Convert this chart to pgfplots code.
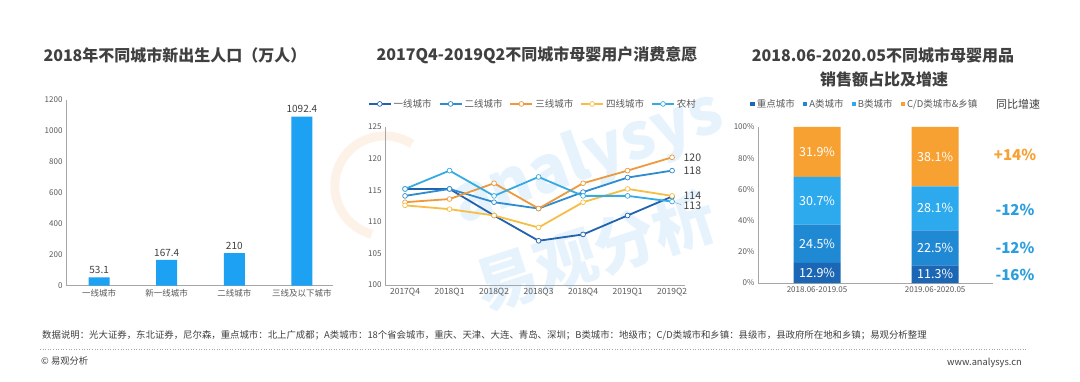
\documentclass[border=0pt]{standalone}
\usepackage{pgfplots}
\pgfplotsset{compat=1.18}
\usepackage{fontspec}
\setmainfont{Noto Sans CJK SC}
\definecolor{titlegray}{HTML}{404040}
\definecolor{tickgray}{HTML}{595959}
\definecolor{axgray}{HTML}{A6A6A6}
\definecolor{barblue}{HTML}{1DA1F2}
\definecolor{lone}{HTML}{2262AE}
\definecolor{ltwo}{HTML}{2E8BCF}
\definecolor{lthree}{HTML}{EE9A3C}
\definecolor{lfour}{HTML}{F6BE45}
\definecolor{lfive}{HTML}{36AAE2}
\definecolor{sone}{HTML}{1C67B5}
\definecolor{stwo}{HTML}{2089D3}
\definecolor{sthree}{HTML}{2DAAEE}
\definecolor{sfour}{HTML}{F8A133}
\definecolor{growblue}{HTML}{2B9FDD}
\definecolor{wmblue}{HTML}{3FA9F5}
\definecolor{wmorange}{HTML}{F5A04A}
\pgfplotsset{
 base/.style={scale only axis, clip=false, axis x line*=bottom, axis y line*=left,
   axis line style={draw=axgray, line width=0.8pt, -}, major tick length=0pt,
   tick label style={font=\fontsize{8}{9}\selectfont, text=tickgray},
   x tick label style={font=\fontsize{8.5}{10}\selectfont},
   /pgf/number format/assume math mode=true, /pgf/number format/1000 sep={}, anchor=south west},
 ln/.style={line width=1.8pt, mark=*, mark size=2.4pt, mark options={fill=white, line width=0.7pt}},
}
\begin{document}
\begin{tikzpicture}[x=1pt,y=1pt]
\path[fill=white, use as bounding box] (0,0) rectangle (1080,381);
% watermark
\draw[wmorange, opacity=0.13, line width=9pt] (412,237) arc[start angle=57, end angle=255, radius=50];
\node[rotate=20, font=\fontsize{64}{70}\bfseries\selectfont, text=wmblue, opacity=0.13] at (588,222) {analysys};
\node[rotate=18, font=\fontsize{62}{70}\bfseries\selectfont, text=wmblue, opacity=0.13] at (595,130) {易观分析};
% titles
\node[font=\fontsize{16}{19}\bfseries\selectfont, text=titlegray] at (175,326) {2018年不同城市新出生人口（万人）};
\node[font=\fontsize{16}{19}\bfseries\selectfont, text=titlegray] at (537,326) {2017Q4-2019Q2不同城市母婴用户消费意愿};
\node[font=\fontsize{16}{19}\bfseries\selectfont, text=titlegray] at (883,326) {2018.06-2020.05不同城市母婴用品};
\node[font=\fontsize{16}{19}\bfseries\selectfont, text=titlegray] at (884,302) {销售额占比及增速};
% panel 1
\begin{axis}[base, at={(66pt,95.3pt)}, width=267pt, height=185.7pt,
  xmin=-0.49, xmax=3.46, ymin=0, ymax=1200, ytick={0,200,...,1200},
  xtick={0,1,2,3}, xticklabels={一线城市,新一线城市,二线城市,三线及以下城市},
  ybar, bar width=21pt, nodes near coords,
  nodes near coords style={font=\fontsize{10}{12}\selectfont, text=titlegray, /pgf/number format/.cd, fixed, precision=1, 1000 sep={}}]
\addplot[fill=barblue, draw=none] coordinates {(0,53.1) (1,167.4) (2,210) (3,1092.4)};
\end{axis}
% panel 2
\begin{axis}[base, at={(385pt,96pt)}, width=300pt, height=158pt,
  xmin=-0.45, xmax=6.29, ymin=100, ymax=125, ytick={100,105,...,125},
  xtick={0,...,6}, xticklabels={2017Q4,2018Q1,2018Q2,2018Q3,2018Q4,2019Q1,2019Q2},
  legend columns=5,
  legend style={at={(0.493,1.146)}, anchor=center, draw=none, fill=none,
    font=\fontsize{9.5}{11}\selectfont, text=tickgray, inner sep=0pt,
    /tikz/every even column/.append style={column sep=5pt}},
  legend image code/.code={\draw[mark repeat=2, mark phase=2] plot coordinates {(0pt,0pt) (11pt,0pt) (22pt,0pt)};}]
\addplot[ln, color=lone] coordinates {(0,115.2) (1,115.2) (2,111.0) (3,107.0) (4,108.0) (5,111.0) (6,114.0)};
\addlegendentry{一线城市}
\addplot[ln, color=ltwo] coordinates {(0,114.1) (1,115.2) (2,113.1) (3,112.1) (4,114.7) (5,117.0) (6,118.1)};
\addlegendentry{二线城市}
\addplot[ln, color=lthree] coordinates {(0,113.1) (1,113.6) (2,116.1) (3,112.1) (4,116.1) (5,118.1) (6,120.2)};
\addlegendentry{三线城市}
\addplot[ln, color=lfour] coordinates {(0,112.6) (1,112.0) (2,111.0) (3,109.1) (4,113.1) (5,115.2) (6,114.1)};
\addlegendentry{四线城市}
\addplot[ln, color=lfive] coordinates {(0,115.2) (1,118.1) (2,114.1) (3,117.1) (4,114.1) (5,114.1) (6,113.2)};
\addlegendentry{农村}
\node[anchor=west, font=\fontsize{10.5}{12}\selectfont, text=titlegray] at (axis cs:6,120.1) [xshift=8pt] {120};
\node[anchor=west, font=\fontsize{10.5}{12}\selectfont, text=titlegray] at (axis cs:6,118.05) [xshift=8pt] {118};
\node[anchor=west, font=\fontsize{10.5}{12}\selectfont, text=titlegray] at (axis cs:6,114.1) [xshift=8pt] {114};
\node[anchor=west, font=\fontsize{10.5}{12}\selectfont, text=titlegray] at (axis cs:6,112.6) [xshift=8pt] {113};
\draw[axgray, line width=0.5pt] (axis cs:6,113.2) ++(3pt,-1pt) -- ++(6pt,-2pt);
\end{axis}
% panel 3
\begin{axis}[base, at={(758pt,98pt)}, width=235pt, height=156pt,
  xmin=-0.5, xmax=1.49, ymin=0, ymax=100, ytick={0,20,...,100},
  yticklabel={\pgfmathprintnumber{\tick}\%},
  xtick={0,1}, xticklabels={2018.06-2019.05,2019.06-2020.05},
  x tick label style={font=\fontsize{8}{9}\selectfont},
  ybar stacked, bar width=47pt,
  legend columns=4,
  legend style={at={(0.455,1.147)}, anchor=center, draw=none, fill=none,
    font=\fontsize{9.5}{11}\selectfont, text=tickgray, inner sep=0pt,
    /tikz/every even column/.append style={column sep=6pt}},
  legend image code/.code={\fill (0pt,-2.2pt) rectangle (4.4pt,2.2pt);}]
\addplot[fill=sone, draw=none] coordinates {(0,12.9) (1,11.3)};
\addlegendentry{重点城市}
\addplot[fill=stwo, draw=none] coordinates {(0,24.5) (1,22.5)};
\addlegendentry{A类城市}
\addplot[fill=sthree, draw=none] coordinates {(0,30.7) (1,28.1)};
\addlegendentry{B类城市}
\addplot[fill=sfour, draw=none] coordinates {(0,31.9) (1,38.1)};
\addlegendentry{C/D类城市\&乡镇}
\coordinate (a1) at (axis cs:0,6.45);
\coordinate (a2) at (axis cs:0,25.15);
\coordinate (a3) at (axis cs:0,52.75);
\coordinate (a4) at (axis cs:0,84.05);
\coordinate (b1) at (axis cs:1,5.65);
\coordinate (b2) at (axis cs:1,22.55);
\coordinate (b3) at (axis cs:1,47.85);
\coordinate (b4) at (axis cs:1,80.95);
\end{axis}
\begin{scope}[every node/.style={font=\fontsize{12.5}{14}\selectfont, text=white}]
\node at (a1) {12.9\%};
\node at (a2) {24.5\%};
\node at (a3) {30.7\%};
\node at (a4) {31.9\%};
\node at (b1) {11.3\%};
\node at (b2) {22.5\%};
\node at (b3) {28.1\%};
\node at (b4) {38.1\%};
\end{scope}
\node[font=\fontsize{11}{13}\selectfont, text=titlegray] at (1018,277) {同比增速};
\node[font=\fontsize{15}{18}\bfseries\selectfont, text=sfour] at (1015,226) {+14\%};
\node[font=\fontsize{15}{18}\bfseries\selectfont, text=growblue] at (1015,171) {-12\%};
\node[font=\fontsize{15}{18}\bfseries\selectfont, text=growblue] at (1015,133) {-12\%};
\node[font=\fontsize{15}{18}\bfseries\selectfont, text=growblue] at (1015,106) {-16\%};
% footer
\node[anchor=west, inner sep=0pt, font=\fontsize{9.4}{11}\selectfont, text=titlegray] at (42,46) {数据说明：光大证券，东北证券，尼尔森，重点城市：北上广成都；A类城市：18个省会城市，重庆、天津、大连、青岛、深圳；B类城市：地级市；C/D类城市和乡镇：县级市，县政府所在地和乡镇；易观分析整理};
\draw[axgray, dotted, line width=0.6pt] (40,32) -- (1027,32);
\node[anchor=west, inner sep=0pt, font=\fontsize{9.3}{11}\selectfont, text=titlegray] at (41,20) {© 易观分析};
\node[anchor=east, inner sep=0pt, font=\fontsize{9.3}{11}\selectfont, text=titlegray] at (1022,18) {www.analysys.cn};
\end{tikzpicture}
\end{document}
